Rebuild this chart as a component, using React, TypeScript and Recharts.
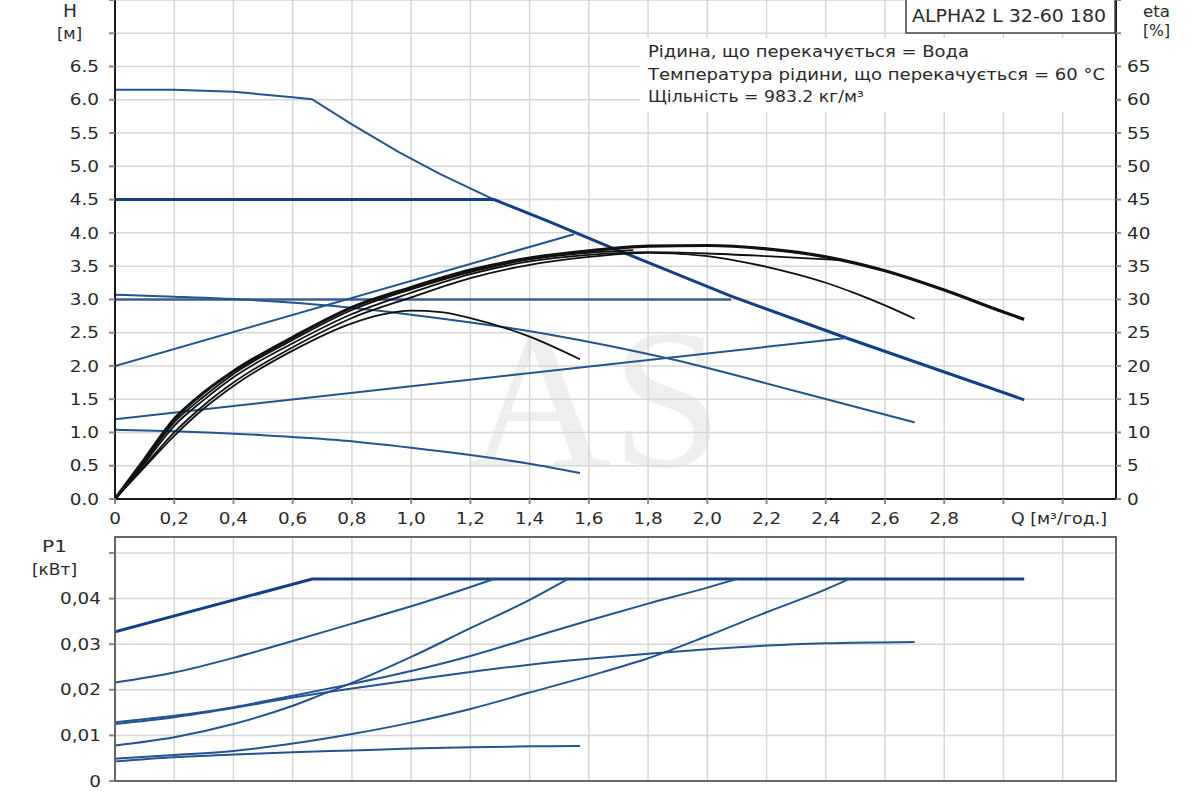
import React from "react";
import { LineChart, Line, XAxis, YAxis, CartesianGrid } from "recharts";

type Pt = [number, number];

const Q_MAX = 3.38;
const Q_TICKS = [0, 0.2, 0.4, 0.6, 0.8, 1.0, 1.2, 1.4, 1.6, 1.8, 2.0, 2.2, 2.4, 2.6, 2.8, 3.0, 3.2];
const H_TICKS = [0, 0.5, 1, 1.5, 2, 2.5, 3, 3.5, 4, 4.5, 5, 5.5, 6, 6.5, 7, 7.5];
const ETA_TICKS = [0, 5, 10, 15, 20, 25, 30, 35, 40, 45, 50, 55, 60, 65, 70, 75];
const P_TICKS = [0, 0.01, 0.02, 0.03, 0.04, 0.05];

// H [m] vs Q [m3/h]
const hMax: Pt[] = [[0, 6.15], [0.2, 6.15], [0.4, 6.12], [0.6, 6.04], [0.665, 6.01], [0.8, 5.63], [0.96, 5.21], [1.1, 4.88], [1.28, 4.5]];
const hConst45: Pt[] = [[0, 4.5], [1.28, 4.5], [1.47, 4.16], [1.67, 3.79], [2.08, 3.05], [2.47, 2.42], [3.07, 1.49]];
const hConst30: Pt[] = [[0, 3.0], [2.08, 3.0]];
const hMid: Pt[] = [[0, 3.07], [0.2, 3.04], [0.5, 2.98], [0.74, 2.9], [1.0, 2.77], [1.47, 2.47], [1.88, 2.1], [2.3, 1.62], [2.7, 1.15]];
const hProp1: Pt[] = [[0, 2.0], [1.55, 3.98]];
const hProp2: Pt[] = [[0, 1.2], [2.47, 2.42]];
const hMin: Pt[] = [[0, 1.04], [0.2, 1.02], [0.5, 0.96], [0.74, 0.89], [1.0, 0.77], [1.2, 0.66], [1.4, 0.53], [1.57, 0.39]];

// eta [%] vs Q
const eta1: Pt[] = [[0, 0], [0.1, 4.8], [0.2, 9.5], [0.3, 13.6], [0.4, 17], [0.6, 22.3], [0.8, 26.4], [0.9, 27.7], [1.0, 28.3], [1.1, 28.1], [1.2, 27.2], [1.4, 24.4], [1.57, 21]];
const eta2: Pt[] = [[0, 0], [0.1, 5], [0.2, 10], [0.3, 14.1], [0.4, 17.5], [0.6, 22.8], [0.8, 27.2], [1.0, 30.3], [1.2, 33.2], [1.4, 35.2], [1.6, 36.4], [1.8, 37.0], [2.0, 36.5], [2.1, 35.8], [2.2, 34.9], [2.3, 33.8], [2.4, 32.5], [2.5, 30.9], [2.6, 29.1], [2.7, 27.1]];
const eta3: Pt[] = [[0, 0], [0.1, 5.4], [0.2, 11], [0.3, 14.9], [0.4, 18.3], [0.6, 23.4], [0.8, 27.8], [1.0, 31], [1.2, 33.8], [1.4, 35.7], [1.6, 36.7], [1.8, 37.1], [2.0, 36.9], [2.2, 36.5], [2.45, 35.9]];
const eta5: Pt[] = [[0, 0], [0.1, 5.7], [0.2, 11.5], [0.3, 15.4], [0.4, 18.8], [0.6, 23.9], [0.8, 28.4], [1.0, 31.5], [1.2, 34.1], [1.4, 36], [1.6, 37], [1.75, 37.4]];
const etaMax: Pt[] = [[0, 0], [0.1, 6], [0.2, 12], [0.3, 16], [0.4, 19.2], [0.6, 24.3], [0.8, 28.8], [1.0, 31.8], [1.2, 34.4], [1.4, 36.2], [1.6, 37.3], [1.8, 38.0], [2.0, 38.1], [2.2, 37.6], [2.4, 36.4], [2.6, 34.3], [2.8, 31.4], [3.0, 28.1], [3.07, 27]];

// P1 [kW] vs Q
const pLimit: Pt[] = [[0, 0.0327], [0.666, 0.0443], [3.07, 0.0443]];
const pB: Pt[] = [[0, 0.0216], [0.2, 0.0238], [0.4, 0.027], [0.6, 0.0307], [0.8, 0.0345], [1.0, 0.0383], [1.28, 0.0443]];
const pC: Pt[] = [[0, 0.0078], [0.2, 0.0096], [0.4, 0.0125], [0.6, 0.0165], [0.7, 0.019], [0.8, 0.0215], [1.0, 0.0272], [1.2, 0.0335], [1.4, 0.0397], [1.53, 0.0443]];
const pD: Pt[] = [[0, 0.0129], [0.2, 0.0143], [0.4, 0.0162], [0.6, 0.0187], [0.8, 0.0213], [1.0, 0.0241], [1.2, 0.0274], [1.4, 0.0313], [1.6, 0.0352], [1.8, 0.0389], [2.0, 0.0424], [2.1, 0.0443]];
const pE: Pt[] = [[0, 0.0125], [0.2, 0.014], [0.4, 0.016], [0.6, 0.0183], [0.8, 0.0203], [1.0, 0.0221], [1.2, 0.0239], [1.4, 0.0255], [1.6, 0.0268], [1.8, 0.0279], [2.0, 0.0289], [2.2, 0.0297], [2.4, 0.0302], [2.7, 0.0305]];
const pF: Pt[] = [[0, 0.0049], [0.2, 0.0057], [0.4, 0.0066], [0.6, 0.0082], [0.8, 0.0103], [1.0, 0.0128], [1.2, 0.0158], [1.4, 0.0194], [1.6, 0.023], [1.8, 0.0269], [2.0, 0.0318], [2.2, 0.037], [2.4, 0.042], [2.48, 0.0443]];
const pG: Pt[] = [[0, 0.0043], [0.2, 0.0052], [0.4, 0.0058], [0.6, 0.0063], [0.8, 0.0067], [1.0, 0.0071], [1.2, 0.0074], [1.4, 0.0076], [1.57, 0.0077]];

const BLUE = "#24548f";
const BLUE_DARK = "#123f85";
const BLACK = "#111111";
const GRID = "#d7d7d7";
const FONT = "DejaVu Sans, Verdana, sans-serif";

const toPts = (arr: Pt[]) => arr.map(([q, v]) => ({ q, v }));

const fmtQ = (q: number) => (q === 0 ? "0" : q >= 2.95 ? "" : q.toFixed(1).replace(".", ","));
const fmtH = (h: number) => (h > 6.5 ? "" : h.toFixed(1));
const fmtEta = (e: number) => (e > 65 ? "" : String(e));
const fmtP = (p: number) => (p === 0 ? "0" : p > 0.045 ? "" : p.toFixed(2).replace(".", ","));

function StretchTick(props: any) {
  const { x, y, payload, textAnchor, fmt, dy } = props;
  const label = fmt(payload.value);
  if (!label) return <g />;
  return (
    <text
      x={x}
      y={y}
      dy={dy}
      textAnchor={textAnchor}
      fill="#2a2a2a"
      fontSize={16}
      fontFamily={FONT}
      transform={`translate(${x} ${y}) scale(1.15 1) translate(${-x} ${-y})`}
    >
      {label}
    </text>
  );
}

const topSeries = [
  { d: hMax, c: BLUE, w: 2, axis: "h", t: "linear" },
  { d: hConst45, c: BLUE_DARK, w: 3, axis: "h", t: "linear" },
  { d: hConst30, c: "#3c5e8e", w: 2.5, axis: "h", t: "linear" },
  { d: hMid, c: BLUE, w: 2, axis: "h", t: "monotone" },
  { d: hProp1, c: BLUE, w: 2, axis: "h", t: "linear" },
  { d: hProp2, c: BLUE, w: 2, axis: "h", t: "linear" },
  { d: hMin, c: BLUE, w: 2, axis: "h", t: "monotone" },
  { d: eta1, c: BLACK, w: 1.8, axis: "eta", t: "monotone" },
  { d: eta2, c: BLACK, w: 1.8, axis: "eta", t: "monotone" },
  { d: eta3, c: BLACK, w: 1.8, axis: "eta", t: "monotone" },
  { d: eta5, c: BLACK, w: 1.8, axis: "eta", t: "monotone" },
  { d: etaMax, c: BLACK, w: 3.2, axis: "eta", t: "monotone" },
];

const bottomSeries = [
  { d: pLimit, c: BLUE_DARK, w: 3, t: "linear" },
  { d: pB, c: BLUE, w: 2, t: "monotone" },
  { d: pC, c: BLUE, w: 2, t: "monotone" },
  { d: pD, c: BLUE, w: 2, t: "monotone" },
  { d: pE, c: BLUE, w: 2, t: "monotone" },
  { d: pF, c: BLUE, w: 2, t: "monotone" },
  { d: pG, c: BLUE, w: 2, t: "monotone" },
];

export default function App() {
  return (
    <div style={{ position: "absolute", left: 0, top: 0, width: 1200, height: 800, background: "#fff", overflow: "hidden" }}>
      {/* watermark */}
      <svg width={1200} height={800} style={{ position: "absolute", left: 0, top: 0 }}>
        <text x={467} y={466} fontSize={200} fontFamily="Liberation Serif, serif" fill="#efefef">
          AS
        </text>
      </svg>

      <div style={{ position: "absolute", left: 0, top: 0 }}>
        <LineChart width={1200} height={530} margin={{ top: 0, right: 0, bottom: 0, left: 0 }}>
          <CartesianGrid stroke={GRID} strokeWidth={1.5} yAxisId="h" />
          <XAxis
            dataKey="q"
            type="number"
            domain={[0, Q_MAX]}
            ticks={Q_TICKS}
            interval={0}
            allowDataOverflow
            height={31}
            stroke="#1a1a1a"
            strokeWidth={2}
            tickLine={{ stroke: "#888" }}
            tickSize={5}
            tickMargin={9}
            tick={(p: any) => <StretchTick {...p} fmt={fmtQ} dy="0.71em" />}
          />
          <YAxis
            yAxisId="h"
            domain={[0, 7.5]}
            ticks={H_TICKS}
            interval={0}
            width={115}
            stroke="#1a1a1a"
            strokeWidth={2}
            tickLine={{ stroke: "#888" }}
            tickSize={6}
            tickMargin={10}
            tick={(p: any) => <StretchTick {...p} fmt={fmtH} dy="0.355em" />}
          />
          <YAxis
            yAxisId="eta"
            orientation="right"
            domain={[0, 75]}
            ticks={ETA_TICKS}
            interval={0}
            width={84}
            stroke="#1a1a1a"
            strokeWidth={2}
            tickLine={{ stroke: "#888" }}
            tickSize={5}
            tickMargin={6}
            tick={(p: any) => <StretchTick {...p} fmt={fmtEta} dy="0.355em" />}
          />
          {topSeries.map((s, i) => (
            <Line
              key={"t" + i}
              data={toPts(s.d)}
              dataKey="v"
              yAxisId={s.axis}
              type={s.t as any}
              stroke={s.c}
              strokeWidth={s.w}
              dot={false}
              activeDot={false}
              isAnimationActive={false}
            />
          ))}
        </LineChart>
      </div>

      <div style={{ position: "absolute", left: 0, top: 537 }}>
        <LineChart width={1200} height={263} margin={{ top: 0, right: 84, bottom: 19, left: 0 }}>
          <CartesianGrid stroke={GRID} strokeWidth={1.5} />
          <XAxis dataKey="q" type="number" domain={[0, Q_MAX]} ticks={Q_TICKS} interval={0} allowDataOverflow hide />
          <YAxis
            domain={[0, 0.0535]}
            ticks={P_TICKS}
            interval={0}
            allowDataOverflow
            width={115}
            stroke="#333"
            strokeWidth={2}
            tickLine={{ stroke: "#888" }}
            tickSize={6}
            tickMargin={8}
            tick={(p: any) => <StretchTick {...p} fmt={fmtP} dy="0.355em" />}
          />
          {bottomSeries.map((s, i) => (
            <Line
              key={"b" + i}
              data={toPts(s.d)}
              dataKey="v"
              type={s.t as any}
              stroke={s.c}
              strokeWidth={s.w}
              dot={false}
              activeDot={false}
              isAnimationActive={false}
            />
          ))}
        </LineChart>
      </div>

      {/* labels and frames */}
      <svg width={1200} height={800} style={{ position: "absolute", left: 0, top: 0, pointerEvents: "none" }} fontFamily={FONT} fill="#2a2a2a">
        <rect x={115} y={537} width={1001} height={244} fill="none" stroke="#666" strokeWidth={2} />
        <rect x={906} y={-2} width={209} height={35} fill="#fff" stroke="#444" strokeWidth={1.5} />
        <text x={912} y={22} fontSize={18} textLength={194} lengthAdjust="spacingAndGlyphs">ALPHA2 L 32-60 180</text>
        <rect x={640} y={38} width={474} height={74} fill="#fff" />
        <text x={648} y={57} fontSize={16} textLength={321} lengthAdjust="spacingAndGlyphs">Рідина, що перекачується = Вода</text>
        <text x={648} y={80} fontSize={16} textLength={457} lengthAdjust="spacingAndGlyphs">Температура рідини, що перекачується = 60 °C</text>
        <text x={648} y={102} fontSize={16} textLength={216} lengthAdjust="spacingAndGlyphs">Щільність = 983.2 кг/м³</text>
        <text x={63} y={17} fontSize={17} textLength={14} lengthAdjust="spacingAndGlyphs">H</text>
        <text x={57} y={39} fontSize={16} textLength={25} lengthAdjust="spacingAndGlyphs">[м]</text>
        <text x={1143} y={17} fontSize={16} textLength={27} lengthAdjust="spacingAndGlyphs">eta</text>
        <text x={1143} y={36} fontSize={16} textLength={27} lengthAdjust="spacingAndGlyphs">[%]</text>
        <text x={1011} y={524} fontSize={16} textLength={96} lengthAdjust="spacingAndGlyphs">Q [м³/год.]</text>
        <text x={42} y={552} fontSize={16} textLength={25} lengthAdjust="spacingAndGlyphs">P1</text>
        <text x={32} y={575} fontSize={16} textLength={45} lengthAdjust="spacingAndGlyphs">[кВт]</text>
      </svg>
    </div>
  );
}
